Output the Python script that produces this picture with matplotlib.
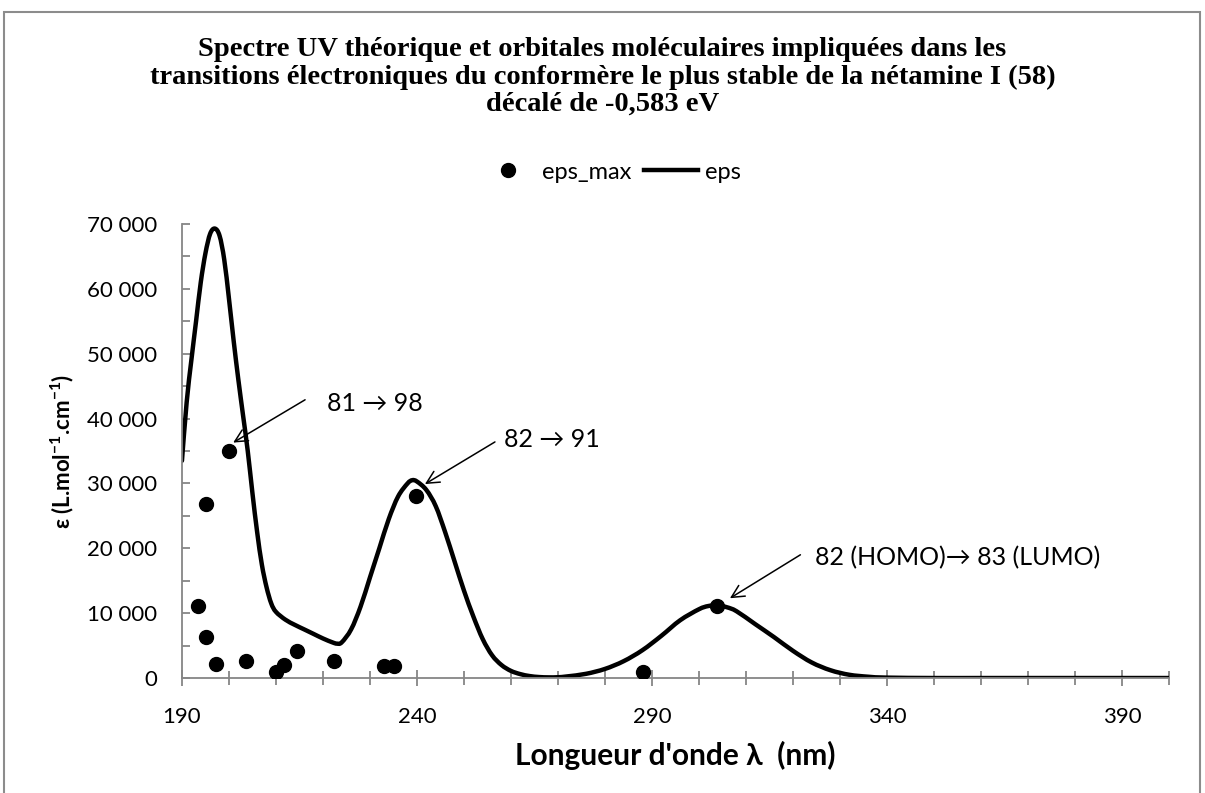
import numpy as np
import matplotlib
matplotlib.use('Agg')
import matplotlib.pyplot as plt
from matplotlib.ticker import MultipleLocator, FixedLocator, FuncFormatter
from matplotlib.patches import Rectangle, PathPatch
from matplotlib.path import Path
from matplotlib.lines import Line2D

# simulated spectrum (eps) and individual transitions (eps_max)
lam = [190, 191, 192, 193, 194, 195, 196, 197, 198, 199, 200, 201, 202, 203,
       204, 205, 206, 207, 208, 209, 210, 212, 214, 216, 218, 220, 222, 223,
       224, 226, 228, 230, 232, 234, 236, 238, 239, 240, 242, 244, 246, 248,
       250, 252, 254, 256, 258, 260, 262, 264, 266, 268, 270, 272, 276, 280,
       284, 288, 292, 296, 300, 302, 304, 306, 308, 312, 316, 320, 324, 328,
       332, 336, 340, 350, 360, 370, 380, 390, 400]
eps = [33500, 42500, 49000, 55000, 61000, 65500, 68500, 69300, 68200, 64500,
       58500, 52000, 46000, 40500, 35000, 28500, 22500, 17500, 14000, 11500,
       10200, 9000, 8200, 7500, 6800, 6100, 5500, 5300,
       5500, 7500, 11000, 15500, 20000, 24500, 28000, 30000, 30500, 30300,
       29000, 26500, 22500, 18000, 13500, 9500, 6000, 3500, 2000, 1100, 600,
       300, 150, 100, 120, 250, 650, 1400, 2600, 4300, 6500, 8900, 10600,
       11100, 11200, 10900, 10300, 8300, 6300, 4200, 2400, 1200, 500, 200,
       60, 0, 0, 0, 0, 0, 0]

lam_max = [193.4, 195.1, 195.2, 197.3, 200.1, 203.6, 210.0, 211.7, 214.5,
           222.3, 233.0, 235.2, 239.9, 288.0, 303.8]
eps_max = [11100, 26800, 6400, 2200, 35000, 2700, 1000, 2000, 4100,
           2700, 1900, 1900, 28100, 900, 11150]

# transition labels: text, arrow tip, arrow tail, text position
notes = [('81 → 98', (200.9, 36300), (216.2, 42900), (220.8, 42400)),
         ('82 → 91', (241.7, 29900), (256.6, 36400), (258.5, 36700)),
         ('82 (HOMO)→ 83 (LUMO)', (306.6, 12300), (321.6, 19000), (324.8, 18600))]


def smooth_path(x, y):
    # cubic bezier through every point (Catmull-Rom tangents), like a smoothed line
    p = np.column_stack([x, y]).astype(float)
    n = len(p)
    verts = [p[0]]
    codes = [Path.MOVETO]
    for i in range(n - 1):
        p0 = p[max(i - 1, 0)]
        p1 = p[i]
        p2 = p[i + 1]
        p3 = p[min(i + 2, n - 1)]
        verts += [p1 + (p2 - p0) / 6, p2 - (p3 - p1) / 6, p2]
        codes += [Path.CURVE4] * 3
    return Path(verts, codes)


sans = ['Lato', 'DejaVu Sans']
plt.rcParams['font.family'] = sans
plt.rcParams['mathtext.fontset'] = 'custom'
plt.rcParams['mathtext.bf'] = 'Lato:bold'
plt.rcParams['mathtext.rm'] = 'Lato'

grey = '#868686'

fig = plt.figure(figsize=(12.05, 7.93), dpi=100)
ax = fig.add_axes([0.151, 0.145, 0.819, 0.5725])

sc, = ax.plot(lam_max, eps_max, 'o', color='black', markersize=10, label='eps_max', zorder=3)
ax.add_patch(PathPatch(smooth_path(lam, eps), facecolor='none', edgecolor='black',
                       linewidth=3.2, capstyle='round', joinstyle='round', zorder=2))
ln = Line2D([], [], color='black', linewidth=3.2, label='eps')

ax.set_xlim(190, 400)
ax.set_ylim(0, 70000)
ax.xaxis.set_major_locator(FixedLocator([190, 240, 290, 340, 390]))
ax.xaxis.set_minor_locator(FixedLocator(np.arange(190, 401, 10)))
ax.yaxis.set_major_locator(MultipleLocator(10000))
ax.yaxis.set_minor_locator(MultipleLocator(5000))
ax.yaxis.set_major_formatter(FuncFormatter(lambda v, p: f'{int(v):,}'.replace(',', ' ')))

for s in ['top', 'right']:
    ax.spines[s].set_visible(False)
for s in ['left', 'bottom']:
    ax.spines[s].set_color(grey)
    ax.spines[s].set_linewidth(1.3)

ax.tick_params(axis='y', which='both', direction='in', length=6, width=1.3,
               color=grey, labelsize=16, pad=18)
ax.tick_params(axis='x', which='major', direction='inout', length=12, width=1.3,
               color=grey, labelsize=16, pad=15)
ax.tick_params(axis='x', which='minor', direction='inout', length=10, width=1.3,
               color=grey)

ax.set_xlabel("Longueur d'onde λ  (nm)", fontsize=21.5, fontweight='bold', labelpad=10)
ax.set_ylabel(r'ε (L.mol$^{\mathbf{-1}}$.cm$^{\mathbf{-1}}$)', fontsize=16,
              fontweight='bold', labelpad=8)

for txt, tip, tail, pos in notes:
    ax.annotate('', xy=tip, xytext=tail,
                arrowprops=dict(arrowstyle='->,head_length=0.9,head_width=0.45',
                                color='black', lw=1.1, shrinkA=0, shrinkB=0))
    ax.text(pos[0], pos[1], txt, fontsize=18, va='center', ha='left', family=sans)

fig.text(0.5, 0.903,
         'Spectre UV théorique et orbitales moléculaires impliquées dans les\n'
         'transitions électroniques du conformère le plus stable de la nétamine I (58)\n'
         'décalé de -0,583 eV',
         ha='center', va='center', fontsize=20.5, fontweight='bold',
         family='Liberation Serif', linespacing=1.1)

fig.legend(handles=[sc, ln], loc='center', bbox_to_anchor=(0.507, 0.783), ncol=2,
           frameon=False, fontsize=17, handlelength=2.3, columnspacing=0.5,
           handletextpad=0.3)

fig.patches.append(Rectangle((0.0035, -0.05), 0.9925, 1.035, transform=fig.transFigure,
                             fill=False, edgecolor='#8c8c8c', linewidth=1.5))

plt.savefig('out.png', dpi=100)
